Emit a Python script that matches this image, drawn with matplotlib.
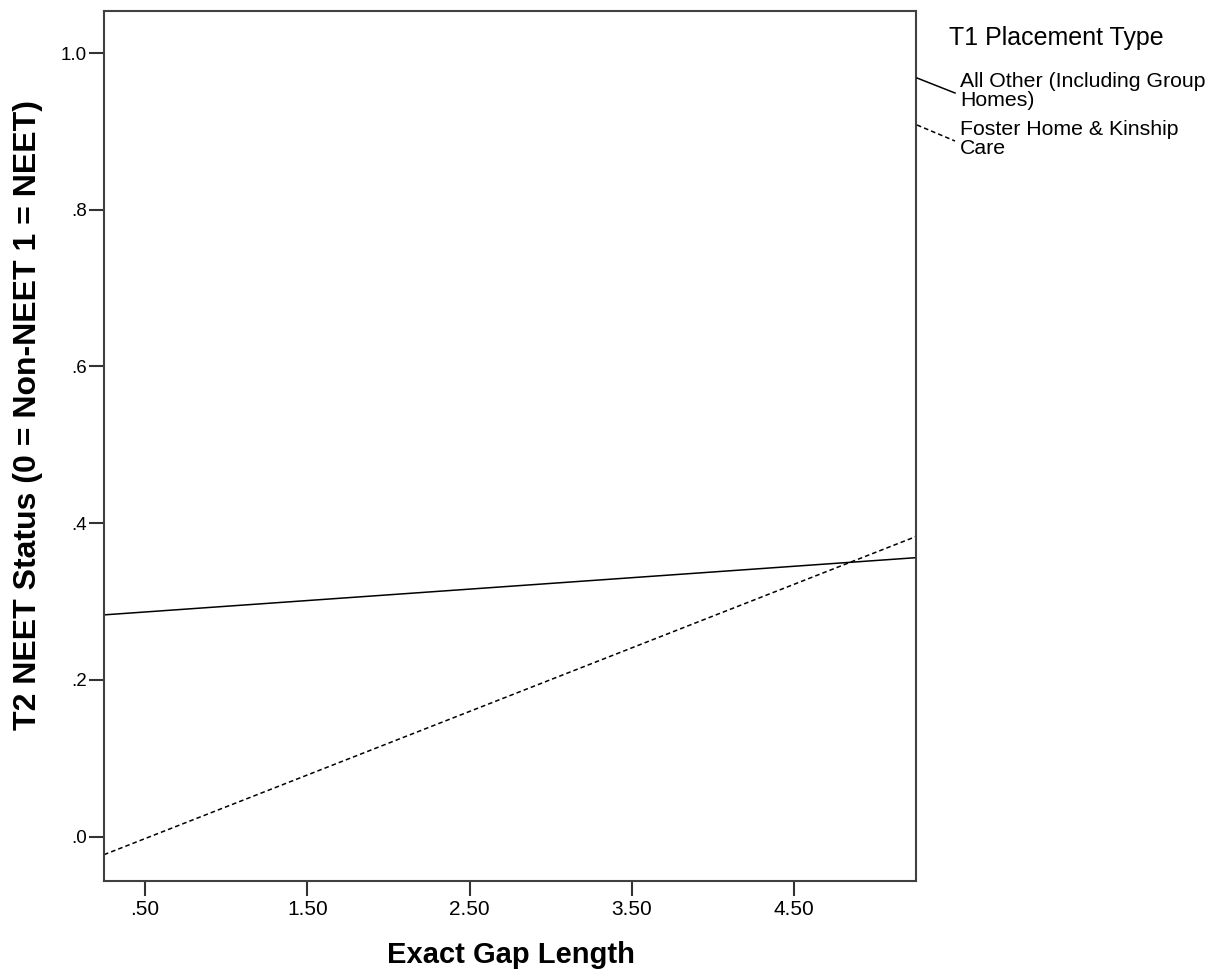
import matplotlib
matplotlib.use("Agg")
import matplotlib.pyplot as plt
from matplotlib.lines import Line2D

# ---- data ----
x_ends = [0.247, 5.25]                      # gap length at the axis edges
all_other = [0.283, 0.356]                  # All Other (Including Group Homes)
foster = [-0.023, 0.383]                    # Foster Home & Kinship Care
x_ticks = [0.5, 1.5, 2.5, 3.5, 4.5]
x_tick_labels = [".50", "1.50", "2.50", "3.50", "4.50"]
y_ticks = [0.0, 0.2, 0.4, 0.6, 0.8, 1.0]
y_tick_labels = [".0", ".2", ".4", ".6", ".8", "1.0"]
legend_title = "T1 Placement Type"
legend_labels = ["All Other (Including Group\nHomes)", "Foster Home & Kinship\nCare"]

plt.rcParams['font.family'] = ['Liberation Sans', 'DejaVu Sans']

W, H = 1219, 975
fig = plt.figure(figsize=(W / 100, H / 100), dpi=100)
ax = fig.add_axes([104 / W, 1 - 881 / H, (916 - 104) / W, (881 - 10.7) / H])

ax.plot(x_ends, all_other, color="black", lw=1.1, solid_capstyle="butt")
ax.plot(x_ends, foster, color="black", lw=1.1, linestyle=(0, (3, 2)))

ax.set_xlim(x_ends[0], x_ends[1])
ax.set_ylim(-0.0566, 1.054)
ax.set_xticks(x_ticks)
ax.set_xticklabels(x_tick_labels, fontsize=15)
ax.set_yticks(y_ticks)
ax.set_yticklabels(y_tick_labels, fontsize=13.5)
ax.tick_params(axis="both", direction="out", length=10.5, width=1.5, color="#333333", pad=2)
ax.tick_params(axis="x", pad=3)
for sp in ax.spines.values():
    sp.set_color("#404040")
    sp.set_linewidth(1.5)

fig.text(511 / W, 1 - 955 / H, "Exact Gap Length", fontsize=21, fontweight="bold",
         ha="center", va="center")
fig.text(28 / W, 1 - 415 / H, "T2 NEET Status (0 = Non-NEET 1 = NEET)", fontsize=23,
         fontweight="bold", rotation=90, ha="center", va="center")

# legend (SPSS style, outside on the right)
fig.text(949 / W, 1 - 38 / H, legend_title, fontsize=18, ha="left", va="center")
fig.add_artist(Line2D([917 / W, 955 / W], [1 - 78 / H, 1 - 93 / H], color="black", lw=1.1,
                      transform=fig.transFigure))
fig.add_artist(Line2D([917 / W, 955 / W], [1 - 125 / H, 1 - 141 / H], color="black", lw=1.1,
                      linestyle=(0, (3, 2)), transform=fig.transFigure))
fig.text(960 / W, 1 - 72 / H, legend_labels[0], fontsize=15.3, ha="left", va="top", linespacing=1.0)
fig.text(960 / W, 1 - 120 / H, legend_labels[1], fontsize=15.3, ha="left", va="top", linespacing=1.0)

fig.savefig("out.png", dpi=100)
